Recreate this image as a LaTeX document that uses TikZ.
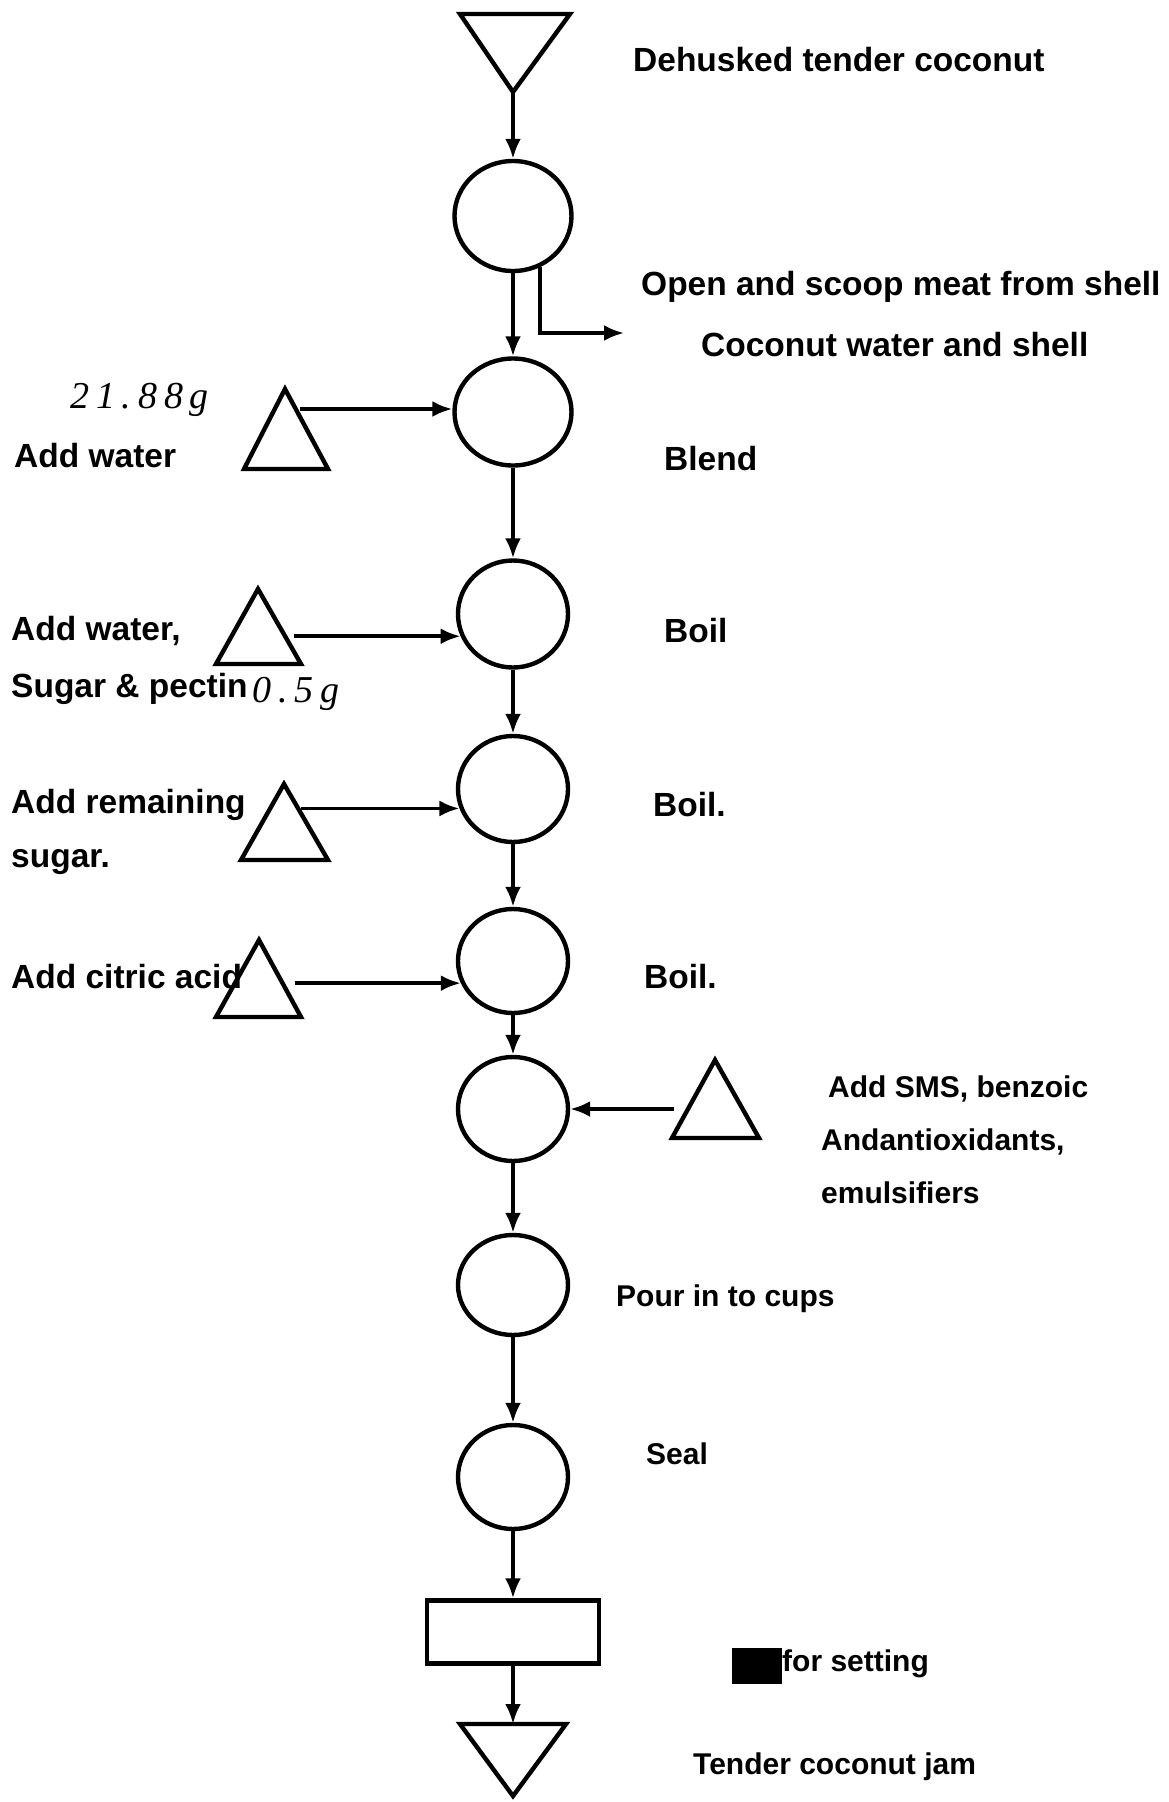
\documentclass[tikz,border=0pt]{standalone}
\usepackage{fontspec}
\setmainfont{Liberation Sans}
\newfontfamily\handfont{Liberation Serif}[LetterSpace=18]
\usetikzlibrary{arrows.meta,shapes.geometric}
\begin{document}
\begin{tikzpicture}[x=1pt,y=-1pt,
  proc/.style={draw, ellipse, line width=4.4pt, minimum width=110pt, minimum height=104pt, inner sep=0pt},
  shp/.style={line width=4.4pt, line join=miter},
  arr/.style={line width=3.6pt, -{Latex[length=20pt,width=16pt]}},
  lbl/.style={anchor=west, inner sep=0pt, font=\fontsize{33.5}{38}\selectfont\bfseries},
  lbls/.style={anchor=west, inner sep=0pt, font=\fontsize{30}{34}\selectfont\bfseries},
  hand/.style={anchor=west, inner sep=0pt, font=\fontsize{38}{42}\selectfont\handfont\itshape}]
\useasboundingbox (0,0) rectangle (1168,1802);
\fill[white] (0,0) rectangle (1168,1802);
% start / end triangles
\draw[shp] (460,14) -- (570,14) -- (513,92) -- cycle;
\coordinate (t0) at (513,92);
\draw[shp] (460,1724) -- (566,1724) -- (513,1796) -- cycle;
\coordinate (tend) at (513,1724);
% process circles
\node[proc, minimum width=117pt, minimum height=110pt] (c1) at (513,216) {};
\node[proc, minimum width=117pt, minimum height=107pt] (c2) at (513,412) {};
\node[proc, minimum height=107pt] (c3) at (513,614) {};
\node[proc, minimum height=106pt] (c4) at (513,789) {};
\node[proc] (c5) at (513,961) {};
\node[proc] (c6) at (513,1109) {};
\node[proc, minimum height=100pt] (c7) at (513,1285) {};
\node[proc] (c8) at (513,1477) {};
\node[draw, line width=4.4pt, minimum width=172pt, minimum height=63pt, inner sep=0pt] (r) at (513,1632) {};
% addition triangles
\draw[shp] (285,389) -- (328,469) -- (244,469) -- cycle;
\draw[shp] (258,589) -- (301,664) -- (216,664) -- cycle;
\draw[shp] (284,784) -- (328,860) -- (241,860) -- cycle;
\draw[shp] (259,940) -- (301,1017) -- (216,1017) -- cycle;
\draw[shp] (715,1060) -- (759,1138) -- (672,1138) -- cycle;
\coordinate (a1) at (300,409);
\coordinate (a2) at (294,0);
\coordinate (a3) at (301,0);
\coordinate (a4) at (295,0);
\coordinate (a5) at (674,1109);
\coordinate (wout) at (624,333);
% connectors
\draw[arr] (t0) -- (c1.north);
\draw[arr] (c1.south) -- (c2.north);
\draw[arr] (c1.-62) |- (wout);
\draw[arr] (a1) -- (a1 -| c2.west);
\draw[arr] (c2.south) -- (c3.north);
\draw[arr] (a2 |- c3.203) -- (c3.203);
\draw[arr] (c3.south) -- (c4.north);
\draw[arr] (a3 |- c4.200) -- (c4.200);
\draw[arr] (c4.south) -- (c5.north);
\draw[arr] (a4 |- c5.203) -- (c5.203);
\draw[arr] (c5.south) -- (c6.north);
\draw[arr] (a5) -- (c6.east);
\draw[arr] (c6.south) -- (c7.north);
\draw[arr] (c7.south) -- (c8.north);
\draw[arr] (c8.south) -- (r.north);
\draw[arr] (r.south) -- (tend);
% labels
\node[lbl] (l0) at (633,60) {Dehusked tender coconut};
\node[lbl] (l1) at (641,287) {Open and scoop meat from shell};
\node[lbl] (l2) at (701,345) {Coconut water and shell};
\node[lbl] (l3) at (14,456) {Add water};
\node[lbl] (l4) at (664,459) {Blend};
\node[lbl] (l5) at (11,631) {Add water,};
\node[lbl] (l6) at (11,689) {Sugar \& pectin};
\node[lbl] (l7) at (664,631) {Boil};
\node[lbl] (l8) at (11,805) {Add remaining};
\node[lbl] (l9) at (11,862) {sugar.};
\node[lbl] (l10) at (653,805) {Boil.};
\node[lbl] (l11) at (11,977) {Add citric acid};
\node[lbl] (l12) at (644,977) {Boil.};
\node[lbls] (l13) at (828,1089) {Add SMS, benzoic};
\node[lbls] (l14) at (821,1142) {Andantioxidants,};
\node[lbls] (l15) at (821,1193) {emulsifiers};
\node[lbls] (l16) at (616,1299) {Pour in to cups};
\node[lbls] (l17) at (646,1454) {Seal};
\fill (732,1648) rectangle (782,1684);
\node[lbls] (l18) at (782,1664) {for setting};
\node[lbls] (l19) at (693,1767) {Tender coconut jam};
\node[hand] (h1) at (70,400) {21.88g};
\node[hand] (h2) at (252,694) {0.5g};
\end{tikzpicture}
\end{document}
